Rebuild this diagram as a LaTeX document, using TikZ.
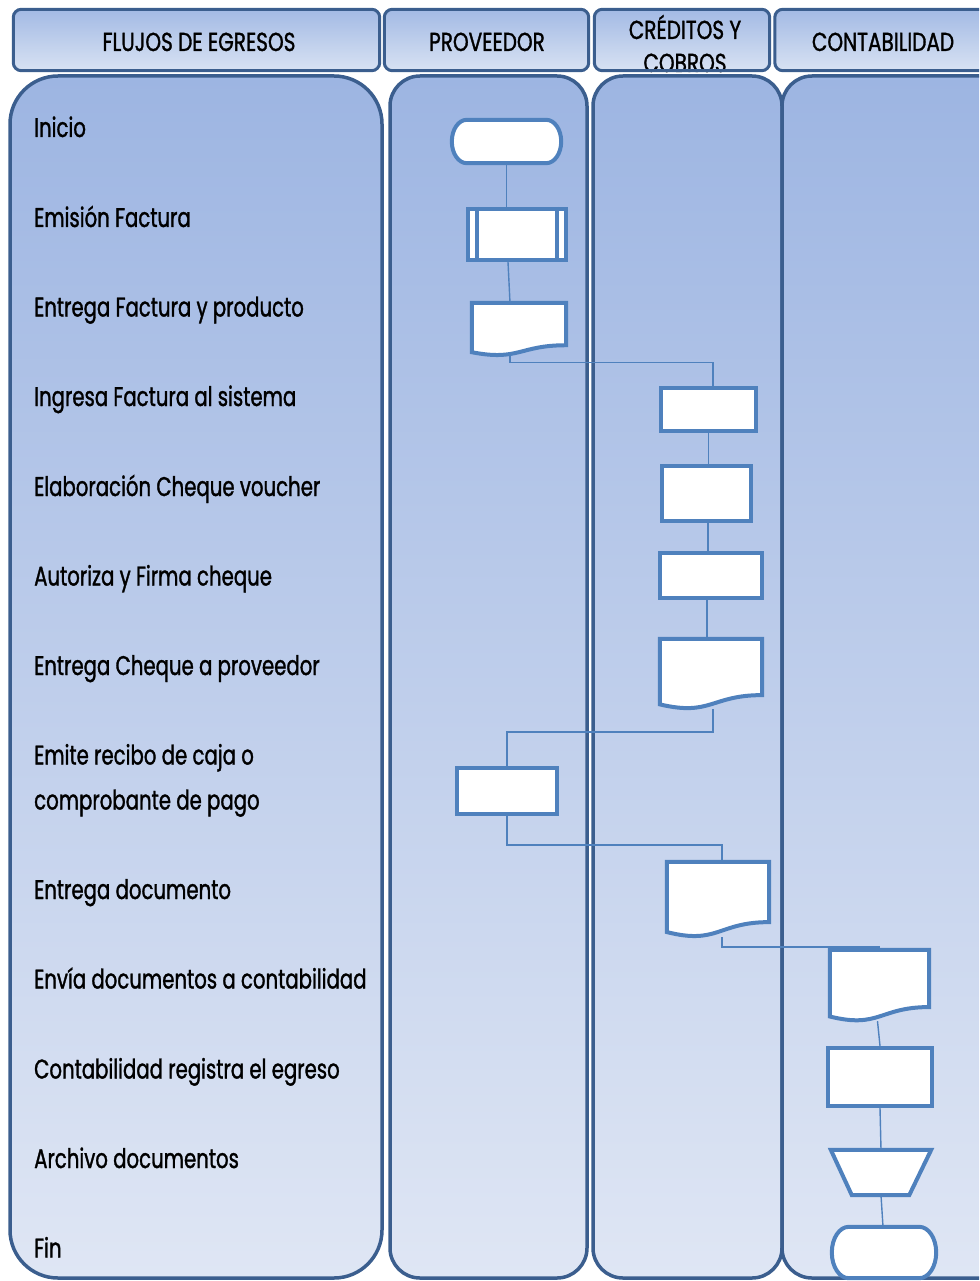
\documentclass[tikz,border=0pt]{standalone}
\usepackage{fontspec}
\setmainfont{Poppins}[FakeStretch=0.73, FakeBold=1.2]
\newfontfamily\hdrfont{Poppins}[FakeStretch=0.77, FakeBold=1.2]
\usetikzlibrary{calc}

\definecolor{lanetop}{RGB}{157,181,226}
\definecolor{lanebot}{RGB}{223,230,244}
\definecolor{hdrtop}{RGB}{163,186,228}
\definecolor{hdrbot}{RGB}{216,226,243}
\definecolor{laneline}{RGB}{59,94,142}
\definecolor{shapeline}{RGB}{79,129,189}

% document symbol (wavy bottom edge) drawn on the frame of a named node
\newcommand{\docbody}[1]{%
  \path[shapedraw] let \p1=(#1.north west), \p2=(#1.south east) in
    (\x1,\y1) -- (\x2,\y1) -- (\x2,{\y1+0.802*(\y2-\y1)})
    .. controls ({0.5*(\x1+\x2)},{\y1+0.802*(\y2-\y1)}) and ({0.5*(\x1+\x2)},{\y1+1.107*(\y2-\y1)})
    .. (\x1,{\y1+0.934*(\y2-\y1)}) -- cycle;}

% terminator symbol with elliptical ends; #2 is the horizontal radius of the ends
\newcommand{\termbody}[2]{%
  \path[shapedraw] let \p1=(#1.north west), \p2=(#1.south east), \n1={0.5*(\y1-\y2)} in
    ({\x1+#2},\y1) -- ({\x2-#2},\y1)
    arc[start angle=90, end angle=-90, x radius=#2, y radius={\n1*1pt}]
    -- ({\x1+#2},\y2)
    arc[start angle=-90, end angle=-270, x radius=#2, y radius={\n1*1pt}] -- cycle;}

\begin{document}
\begin{tikzpicture}[x=1pt,y=-1pt,
  lanebox/.style={draw=laneline, line width=3.5pt, top color=lanetop, bottom color=lanebot},
  hdrbox/.style={rectangle, rounded corners=8pt, top color=hdrtop, bottom color=hdrbot, inner sep=0pt},
  hdrline/.style={draw=laneline, line width=3pt, rounded corners=8pt},
  hdrtext/.style={inner sep=0pt, anchor=base, font=\hdrfont\fontsize{26}{30}\selectfont},
  shp/.style={rectangle, draw=shapeline, line width=4pt, fill=white, inner sep=0pt},
  shapedraw/.style={draw=shapeline, line width=4pt, fill=white},
  frame/.style={rectangle, inner sep=0pt, draw=none},
  conn/.style={draw=shapeline, line width=1.4pt},
  lbl/.style={anchor=base west, inner sep=0pt, font=\fontsize{27}{30}\selectfont}]

\useasboundingbox (0,0) rectangle (979,1281);
\clip (0,0) rectangle (979,1281);

% swim lanes
\draw[lanebox, rounded corners=48pt] (10,76) rectangle (382,1278);
\draw[lanebox, rounded corners=30pt] (390,76) rectangle (587,1278);
\draw[lanebox, rounded corners=30pt] (593,76) rectangle (782,1278);
\draw[lanebox, rounded corners=30pt] (782,76) rectangle (1010,1278);

% lane headers
\node[hdrbox, minimum width=366pt, minimum height=61pt] (h1) at (196.5,40) {};
\node[hdrbox, minimum width=204pt, minimum height=61pt] (h2) at (486.5,40) {};
\node[hdrbox, minimum width=175pt, minimum height=61pt] (h3) at (682,40) {};
\node[hdrbox, minimum width=220pt, minimum height=61pt] (h4) at (885,40) {};

\node[hdrtext] (t1) at (199,51) {FLUJOS DE EGRESOS};
\node[hdrtext] (t2) at (487,51) {PROVEEDOR};
\node[hdrtext] (t3a) at (685,39) {CRÉDITOS Y};
\node[hdrtext] (t3b) at (685,72) {COBROS};
\node[hdrtext] (t4) at (883,51) {CONTABILIDAD};

\foreach \h in {h1,h2,h3,h4}
  \draw[hdrline] (\h.north west) rectangle (\h.south east);
\fill[white] (0,73.5) rectangle (979,74.5);

% step labels
\node[lbl] (l1) at (34,137) {Inicio};
\node[lbl] (l2) at (34,227) {Emisión Factura};
\node[lbl] (l3) at (34,316.5) {Entrega Factura y producto};
\node[lbl] (l4) at (34,406) {Ingresa Factura al sistema};
\node[lbl] (l5) at (34,496) {Elaboración Cheque voucher};
\node[lbl] (l6) at (34,585.5) {Autoriza y Firma cheque};
\node[lbl] (l7) at (34,675) {Entrega Cheque a proveedor};
\node[lbl] (l8a) at (34,764.5) {Emite recibo de caja o};
\node[lbl] (l8b) at (34,809.5) {comprobante de pago};
\node[lbl] (l9) at (34,899) {Entrega documento};
\node[lbl] (l10) at (34,988.5) {Envía documentos a contabilidad};
\node[lbl] (l11) at (34,1078.5) {Contabilidad registra el egreso};
\node[lbl] (l12) at (34,1168) {Archivo documentos};
\node[lbl] (l13) at (34,1257.5) {Fin};

% flowchart symbols
\node[frame, minimum width=109pt, minimum height=43pt] (ini) at (506.5,141.5) {};
\node[shp, minimum width=98pt, minimum height=51pt] (emi) at (517,234.5) {};
\node[frame, minimum width=94pt, minimum height=52.5pt] (ent1) at (519,329.25) {};
\node[shp, minimum width=95pt, minimum height=43pt] (ing) at (708.5,409.5) {};
\node[shp, minimum width=89pt, minimum height=55pt] (ela) at (706.5,493.5) {};
\node[shp, minimum width=102pt, minimum height=45pt] (aut) at (711,575.5) {};
\node[frame, minimum width=102pt, minimum height=69.8pt] (ent2) at (711,673.9) {};
\node[shp, minimum width=100pt, minimum height=46pt] (emi2) at (507,791) {};
\node[frame, minimum width=102pt, minimum height=74.8pt] (ent3) at (718,899.4) {};
\node[frame, minimum width=99pt, minimum height=71pt] (env) at (879.5,985.5) {};
\node[shp, minimum width=104pt, minimum height=58pt] (reg) at (880,1077) {};
\node[frame, minimum width=100pt, minimum height=45pt] (arc) at (881,1172.5) {};
\node[frame, minimum width=104pt, minimum height=51pt] (fin) at (884,1252.5) {};

% connectors
\draw[conn] (ini.south) -- (ini.south |- emi.north);
\draw[conn] ([xshift=-9pt]emi.south) -- ([xshift=-9pt]ent1.north);
\draw[conn] ([xshift=-9pt]ent1.south) -- ++(0,7) -| ([xshift=4.5pt]ing.north);
\draw[conn] (ing.south) -- (ing.south |- ela.north);
\draw[conn] ([xshift=1.5pt]ela.south) -- ([xshift=-3pt]aut.north);
\draw[conn] ([xshift=-4pt]aut.south) -- ([xshift=-4pt]ent2.north);
\draw[conn] ([xshift=2pt]ent2.south) -- ++(0,23) -| (emi2.north);
\draw[conn] (emi2.south) -- ++(0,29) -| ([xshift=4pt]ent3.north);
\draw[conn] ([xshift=4pt]ent3.south) -- ++(0,10) -| (env.north);
\draw[conn] ([xshift=-2pt]env.south) -- (reg.north);
\draw[conn] (reg.south) -- (arc.north);
\draw[conn] (arc.south) -- ([xshift=-1pt]fin.north);

% symbol outlines drawn over the connector ends
\termbody{ini}{15pt}
\termbody{fin}{17pt}
\draw[draw=shapeline, line width=4pt] ([xshift=11pt]emi.north west) -- ([xshift=11pt]emi.south west);
\draw[draw=shapeline, line width=4pt] ([xshift=-11pt]emi.north east) -- ([xshift=-11pt]emi.south east);
\docbody{ent1}
\docbody{ent2}
\docbody{ent3}
\docbody{env}
\path[shapedraw] (arc.north west) -- (arc.north east) -- ([xshift=-22pt]arc.south east)
  -- ([xshift=21pt]arc.south west) -- cycle;

\end{tikzpicture}
\end{document}
